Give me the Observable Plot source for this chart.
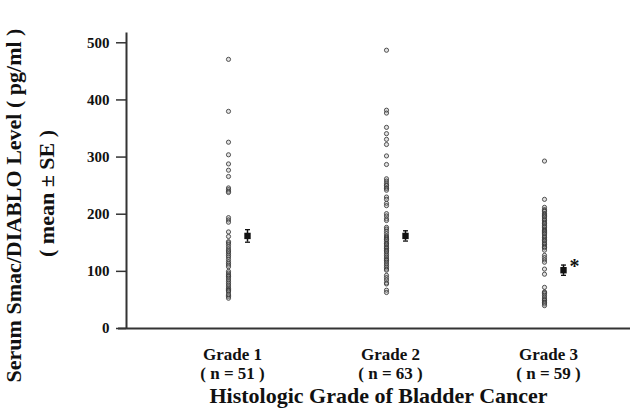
<!DOCTYPE html>
<html>
<head>
<meta charset="utf-8">
<script src="https://cdn.jsdelivr.net/npm/d3@7"></script>
<script src="https://cdn.jsdelivr.net/npm/@observablehq/plot@0.6"></script>
<style>
  html, body { margin: 0; padding: 0; background: #fff; }
</style>
</head>
<body>
<div id="chart"></div>
<script>
const grades = ["Grade 1", "Grade 2", "Grade 3"];
const nLabels = ["( n = 51 )", "( n = 63 )", "( n = 59 )"];
const significance = ["", "", "*"];
const yTicks = [0, 100, 200, 300, 400, 500];

const grade1Values = [471, 380, 326, 304, 288, 277, 266, 246, 243, 240, 238, 194, 190, 186, 169, 161,
  152, 150, 147, 143, 139, 136, 134, 131, 128, 125, 121, 117, 114, 111, 108,
  100, 97, 94, 92, 91, 88, 85, 82, 79, 76, 73, 70, 68, 67, 66, 64, 58, 56, 53, 60];
const grade2Values = [487, 382, 377, 352, 341, 331, 322, 302, 287, 262, 258, 254, 251, 250, 246, 245, 242,
  230, 226, 219, 215, 201, 197, 192, 189, 177, 174, 170, 166, 162, 160, 158, 156, 155, 152, 149, 148,
  146, 143, 141, 140, 137, 136, 134, 131, 128, 125, 122, 120, 119, 116, 113, 110, 107, 104, 102,
  93, 89, 85, 80, 78, 67, 63];
const grade3Values = [293, 226, 212, 208, 206, 205, 201, 200, 198, 196, 195, 192, 190, 189, 186, 184, 183,
  180, 178, 177, 174, 172, 171, 170, 168, 166, 165, 162, 160, 159, 156, 154, 153, 150, 148, 147,
  144, 142, 141, 137, 128, 124, 120, 116, 104, 95, 72, 64, 63, 61, 58, 55, 52, 50, 49, 46, 45, 43, 40];
const means = [162, 162, 102];
const standardErrors = [11, 9, 9];

const allValues = [grade1Values, grade2Values, grade3Values];
const points = grades.flatMap((g, i) => allValues[i].map(v => ({grade: g, value: v})));
const summary = grades.map((g, i) => ({
  grade: g, mean: means[i], lo: means[i] - standardErrors[i], hi: means[i] + standardErrors[i],
  n: nLabels[i], sig: significance[i]
}));

const capSymbol = {
  draw(context, size) {
    const r = Math.sqrt(size / Math.PI);
    context.moveTo(-r, 0);
    context.lineTo(r, 0);
  }
};

const serif = "'Liberation Serif', 'Times New Roman', Times, serif";

const chart = Plot.plot({
  width: 638,
  height: 409,
  marginLeft: 126,
  marginRight: 8,
  marginTop: 32,
  marginBottom: 81,
  style: {fontFamily: serif, fontWeight: "bold", color: "#111", background: "white", overflow: "visible"},
  x: {type: "point", domain: grades, padding: 0, insetLeft: 101, insetRight: 86, axis: null},
  y: {domain: [0, 518], axis: null},
  marks: [
    Plot.frame({stroke: "#333", strokeWidth: 2, strokeDasharray: "0 1304 296"}),
    Plot.ruleY([0], {stroke: "#333", strokeWidth: 2, insetLeft: -8}),
    Plot.axisY({ticks: yTicks, tickSize: 10, tickPadding: 7, fontSize: 15, fontWeight: "bold",
      label: null, stroke: "#333", strokeWidth: 1.5}),
    Plot.dot(points, {x: "grade", y: "value", r: 2.1, stroke: "#3a3a3a", strokeWidth: 1, strokeOpacity: 0.85, fill: "#aaa", fillOpacity: 0.35}),
    Plot.ruleX(summary, {x: "grade", y1: "lo", y2: "hi", dx: 19, stroke: "#111", strokeWidth: 1.5}),
    Plot.dot(summary, {x: "grade", y: "lo", dx: 19, symbol: capSymbol, r: 2.5, stroke: "#111", strokeWidth: 1.3}),
    Plot.dot(summary, {x: "grade", y: "hi", dx: 19, symbol: capSymbol, r: 2.5, stroke: "#111", strokeWidth: 1.3}),
    Plot.dot(summary, {x: "grade", y: "mean", dx: 19, symbol: "square", r: 3.6, fill: "#111"}),
    Plot.text(summary.filter(d => d.sig), {x: "grade", y: "mean", text: "sig", dx: 30, dy: -4,
      fontSize: 20, fontWeight: "bold", fill: "#111", lineAnchor: "middle"}),
    Plot.text(summary, {x: "grade", text: "grade", frameAnchor: "bottom", lineAnchor: "bottom",
      dx: 4, dy: 31, fontSize: 17, fontWeight: "bold", fill: "#111"}),
    Plot.text(summary, {x: "grade", text: "n", frameAnchor: "bottom", lineAnchor: "bottom",
      dx: 4, dy: 50, fontSize: 17, fontWeight: "bold", fill: "#111"}),
    Plot.text(["Histologic Grade of Bladder Cancer"], {frameAnchor: "bottom", lineAnchor: "bottom",
      dy: 74, fontSize: 22, fontWeight: "bold", fill: "#111"}),
    Plot.text(["Serum Smac/DIABLO Level ( pg/ml )"], {frameAnchor: "left", rotate: -90, lineAnchor: "middle",
      textAnchor: "middle", dx: -113, dy: 25, fontSize: 22, fontWeight: "bold", fill: "#111"}),
    Plot.text(["( mean ± SE )"], {frameAnchor: "left", rotate: -90, lineAnchor: "middle",
      textAnchor: "middle", dx: -80, dy: 13, fontSize: 22, fontWeight: "bold", fill: "#111"})
  ]
});
document.getElementById("chart").appendChild(chart);
</script>
</body>
</html>
